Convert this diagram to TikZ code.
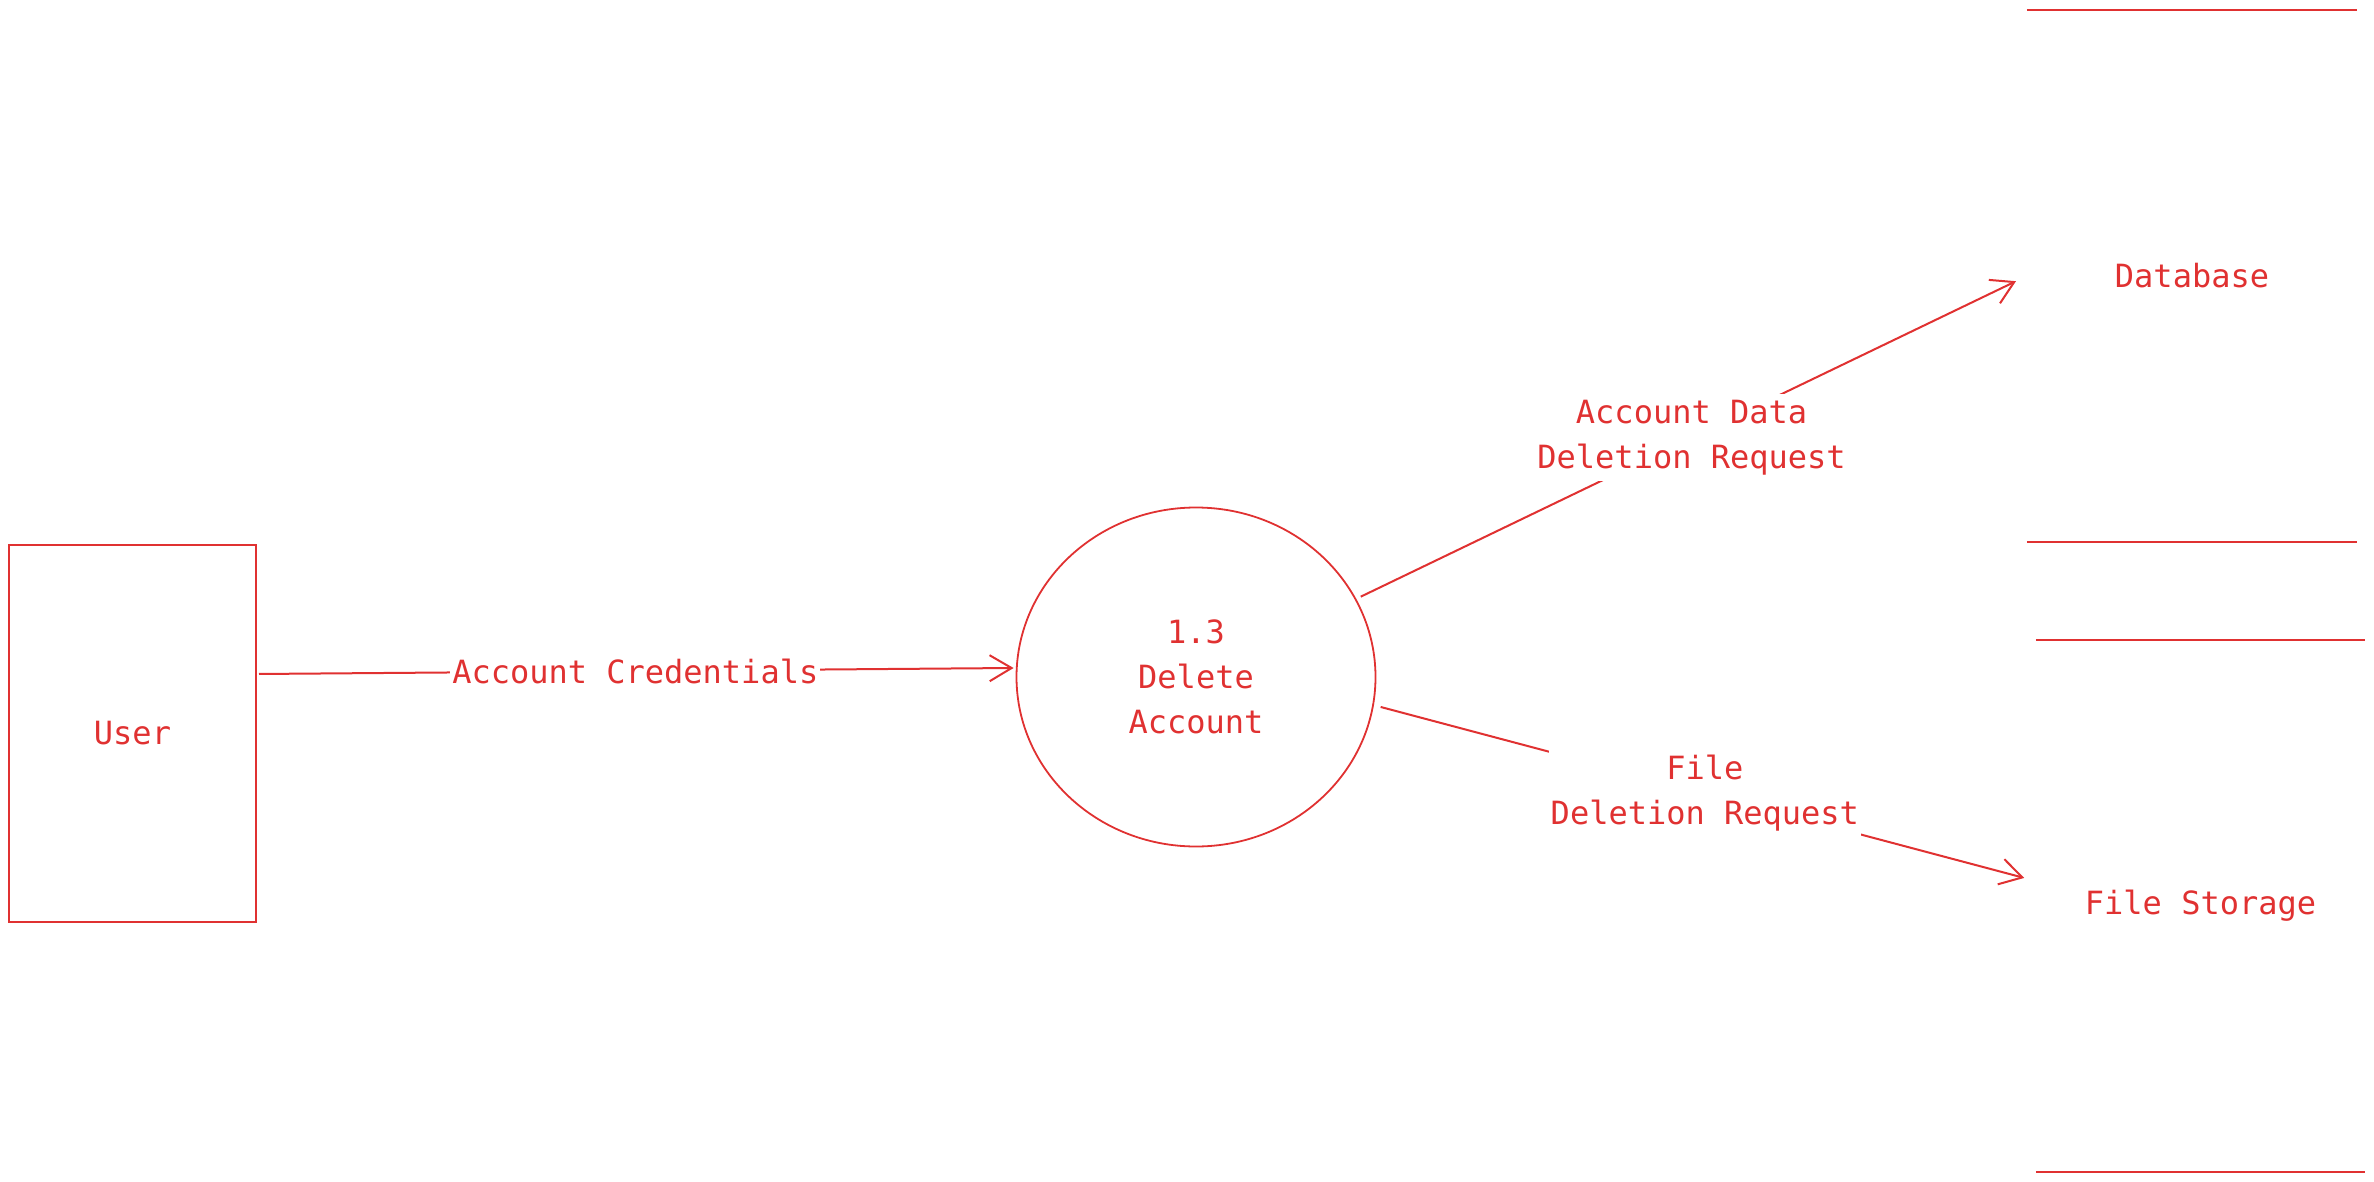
\documentclass[tikz,border=0pt]{standalone}
\usepackage{fontspec}
\setmainfont{DejaVu Sans Mono}
\usetikzlibrary{arrows.meta,shapes.geometric}
\definecolor{exred}{RGB}{224,49,49}
\begin{document}
\begin{tikzpicture}[x=1pt,y=-1pt,
  every node/.style={text=exred,font=\fontsize{32}{45}\selectfont},
  entity/.style={draw=exred,line width=2pt,rectangle,minimum width=247pt,minimum height=377pt},
  proc/.style={draw=exred,line width=1.8pt,ellipse,minimum width=359pt,minimum height=339pt,align=center},
  store/.style={rectangle,align=center},
  storeline/.style={draw=exred,line width=2pt},
  flow/.style={draw=exred,line width=2pt,-{Straight Barb[length=22pt,width=26pt,line width=2pt]}},
  flowlabel/.style={fill=white,align=center,inner xsep=2pt,inner ysep=6pt}]
\useasboundingbox (0,0) rectangle (2374,1182);
\node[entity] (user) at (132.5,733.5) {User};
\node[proc] (proc) at (1196,677) {1.3\\Delete\\Account};
\node[store,minimum width=330pt,minimum height=532pt] (db) at (2192,276) {Database};
\node[store,minimum width=329pt,minimum height=532pt] (fs) at (2200.5,906) {File Storage};
\draw[storeline] (db.north west) -- (db.north east);
\draw[storeline] (db.south west) -- (db.south east);
\draw[storeline] (fs.north west) -- (fs.north east);
\draw[storeline] (fs.south west) -- (fs.south east);
\draw[flow,shorten <=2pt] ([yshift=59.5pt]user.east) -- ([yshift=9pt,xshift=-2pt]proc.west)
  node[midway,flowlabel] (l1) {Account Credentials};
\draw[flow,shorten <=5pt,shorten >=12pt] (proc.26) -- (db.west)
  node[midway,flowlabel] (l2) {Account Data\\Deletion Request};
\draw[flow,shorten <=7pt,shorten >=12pt] (proc.-9) -- ([yshift=25pt]fs.west)
  node[midway,flowlabel] (l3) {File\\Deletion Request};
\end{tikzpicture}
\end{document}
